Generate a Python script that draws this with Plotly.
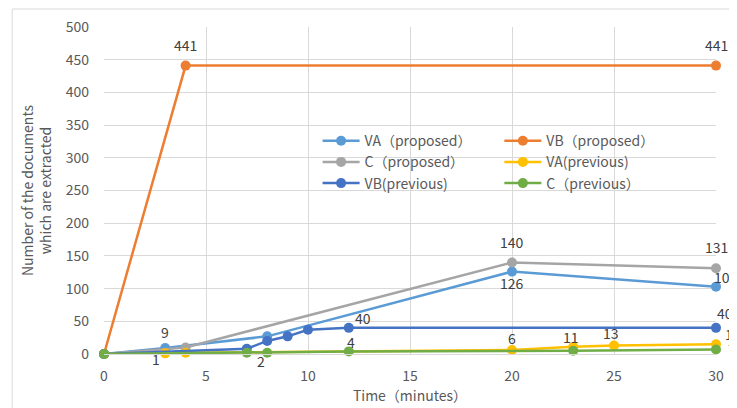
import plotly.graph_objects as go

# ---- data ----
va_prop_x = [0, 3, 8, 20, 30]
va_prop_y = [0, 9, 27, 126, 103]

vb_prop_x = [0, 4, 30]
vb_prop_y = [0, 441, 441]

c_prop_x = [0, 4, 20, 30]
c_prop_y = [0, 10, 140, 131]

va_prev_x = [0, 3, 4, 20, 23, 25, 30]
va_prev_y = [0, 1, 2, 6, 11, 13, 15]

vb_prev_x = [0, 7, 8, 9, 10, 12, 30]
vb_prev_y = [0, 8, 20, 27, 37, 40, 40]

c_prev_x = [0, 7, 8, 12, 23, 30]
c_prev_y = [0, 2, 2, 4, 5, 7]

series_names = ["VA（proposed）", "VB（proposed）", "C（proposed）",
                "VA(previous)", "VB(previous)", "C（previous）"]

x_ticks = [0, 5, 10, 15, 20, 25, 30]
y_ticks = [0, 50, 100, 150, 200, 250, 300, 350, 400, 450, 500]

# ---- styling ----
colors = ["#5B9BD5", "#ED7D31", "#A5A5A5", "#FFC000", "#4472C4", "#70AD47"]
legend_col = ["legend", "legend2", "legend", "legend2", "legend", "legend2"]
# which points carry a data label, and the label's pixel offset (dx, dy; dy down)
label_style = [
    {1: (0, -16), 3: (0, 11), 4: (9, -10)},
    {1: (0, -21), 2: (0, -21)},
    {2: (0, -20), 3: (0, -21)},
    {1: (-9, 6), 3: (0, -12), 4: (-2, -10), 5: (-3, -13), 6: (17, -10)},
    {5: (14, -10), 6: (9, -15)},
    {2: (-6, 8), 3: (2, -9), 5: (16, 0)},
]

xs_all = [va_prop_x, vb_prop_x, c_prop_x, va_prev_x, vb_prev_x, c_prev_x]
ys_all = [va_prop_y, vb_prop_y, c_prop_y, va_prev_y, vb_prev_y, c_prev_y]

FONT = "Noto Sans CJK JP, Noto Sans, sans-serif"
TXT = "#595959"

fig = go.Figure()
annotations = []
for name, xs, ys, col, lg, lbl in zip(series_names, xs_all, ys_all, colors, legend_col, label_style):
    fig.add_trace(go.Scatter(
        x=xs, y=ys, name=name, mode="lines+markers",
        line=dict(color=col, width=2.5),
        marker=dict(color=col, size=10),
        cliponaxis=False,
        legend=lg,
    ))
    for i, (dx, dy) in lbl.items():
        annotations.append(dict(
            x=xs[i], y=ys[i], xref="x", yref="y", text=str(ys[i]),
            showarrow=False, xanchor="center", yanchor="middle",
            xshift=dx, yshift=-dy,
            font=dict(size=14, color="#404040", family=FONT),
        ))

leg_common = dict(orientation="v", xanchor="left", yanchor="top",
                  bgcolor="rgba(0,0,0,0)", font=dict(size=14, color=TXT),
                  tracegroupgap=0, itemwidth=37)

fig.update_layout(
    width=737, height=408,
    margin=dict(l=96, r=29, t=19, b=62),
    paper_bgcolor="white", plot_bgcolor="white",
    font=dict(family=FONT, color=TXT, size=13),
    legend=dict(x=0.349, y=0.70, **leg_common),
    legend2=dict(x=0.646, y=0.70, **leg_common),
    annotations=annotations,
    xaxis=dict(
        range=[0, 30], tickvals=x_ticks, showgrid=True, gridcolor="#D9D9D9",
        gridwidth=1, zeroline=False, showline=True, linecolor="#D9D9D9",
        tickfont=dict(size=14, color=TXT), ticklabelstandoff=9, automargin=False,
        title=dict(text="Time（minutes）", font=dict(size=14, color=TXT), standoff=0),
    ),
    yaxis=dict(
        range=[0, 500], tickvals=y_ticks, showgrid=True, gridcolor="#D9D9D9",
        gridwidth=1, zeroline=False, showline=False, automargin=False,
        tickfont=dict(size=14, color=TXT), ticklabelstandoff=14,
        title=dict(text="Number of the documents<br>which are extracted",
                   font=dict(size=14, color=TXT), standoff=10),
    ),
    shapes=[dict(type="rect", xref="paper", yref="paper",
                 x0=-0.150, x1=1.06, y0=-0.2, y1=1.055,
                 line=dict(color="#D9D9D9", width=1), layer="below")],
)

fig.write_html("out.html")
